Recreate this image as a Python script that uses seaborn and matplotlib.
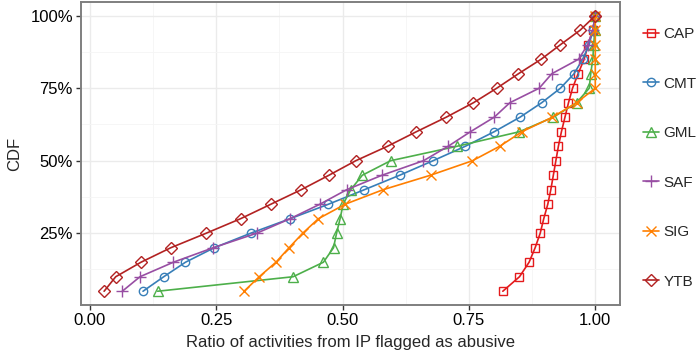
import numpy as np
import pandas as pd
import matplotlib
matplotlib.use('Agg')
import matplotlib.pyplot as plt
import seaborn as sns
from matplotlib.ticker import FixedLocator, PercentFormatter

# =============================================================================
# DATA
# =============================================================================
cdf_levels = [0.05, 0.10, 0.15, 0.20, 0.25, 0.30, 0.35, 0.40, 0.45, 0.50,
              0.55, 0.60, 0.65, 0.70, 0.75, 0.80, 0.85, 0.90, 0.95, 1.00]

cap = [0.817, 0.850, 0.869, 0.881, 0.891, 0.898, 0.906, 0.912, 0.917, 0.922,
       0.927, 0.933, 0.940, 0.947, 0.955, 0.966, 0.978, 0.986, 0.995, 1.000]
cmt = [0.105, 0.146, 0.189, 0.246, 0.318, 0.396, 0.472, 0.543, 0.613, 0.679,
       0.743, 0.800, 0.851, 0.894, 0.931, 0.958, 0.975, 0.988, 0.995, 1.000]
gml = [0.134, 0.402, 0.462, 0.482, 0.488, 0.495, 0.501, 0.516, 0.539, 0.595,
       0.727, 0.850, 0.917, 0.963, 0.988, 0.991, 0.995, 0.997, 0.999, 1.000]
saf = [0.064, 0.099, 0.165, 0.244, 0.330, 0.396, 0.455, 0.508, 0.578, 0.660,
       0.709, 0.753, 0.800, 0.831, 0.889, 0.914, 0.967, 0.985, 0.995, 1.000]
sig = [0.305, 0.335, 0.368, 0.394, 0.421, 0.452, 0.505, 0.580, 0.674, 0.757,
       0.811, 0.855, 0.915, 0.963, 1.000, 1.000, 1.000, 1.000, 1.000, 1.000]
ytb = [0.028, 0.051, 0.101, 0.160, 0.230, 0.298, 0.358, 0.418, 0.473, 0.526,
       0.589, 0.646, 0.705, 0.759, 0.805, 0.848, 0.893, 0.931, 0.970, 1.000]

series_names = ['CAP', 'CMT', 'GML', 'SAF', 'SIG', 'YTB']
series_vals = [cap, cmt, gml, saf, sig, ytb]

x_ticks = [0.00, 0.25, 0.50, 0.75, 1.00]
y_ticks = [0.25, 0.50, 0.75, 1.00]

# =============================================================================
# STYLE
# =============================================================================
sns.set_theme(style='white')
plt.rcParams['font.family'] = ['Liberation Sans', 'DejaVu Sans']

colors = {'CAP': '#E41A1C', 'CMT': '#377EB8', 'GML': '#4DAF4A',
          'SAF': '#984EA3', 'SIG': '#FF7F00', 'YTB': '#B22222'}
markers = {'CAP': 's', 'CMT': 'o', 'GML': '^', 'SAF': '+', 'SIG': 'x', 'YTB': 'D'}
msizes = {'CAP': 6, 'CMT': 6, 'GML': 6.5, 'SAF': 8.5, 'SIG': 7, 'YTB': 6}

df = pd.concat([pd.DataFrame({'site': n, 'ratio': v, 'cdf': cdf_levels})
                for n, v in zip(series_names, series_vals)], ignore_index=True)

fig, ax = plt.subplots(figsize=(6.96, 3.55), dpi=100)
fig.subplots_adjust(left=0.1158, right=0.8905, top=0.9946, bottom=0.1408)

for name in series_names:
    sub = df[df['site'] == name]
    sns.lineplot(data=sub, x='ratio', y='cdf', ax=ax, sort=False, estimator=None,
                 color=colors[name], marker=markers[name], markersize=msizes[name],
                 markerfacecolor='none', markeredgecolor=colors[name],
                 markeredgewidth=1.0, linewidth=1.2, label=name)

# ggplot-like expansion of the limits
ax.set_xlim(-0.0185, 1.0485)
ax.set_ylim(0.0025, 1.0475)

ax.xaxis.set_major_locator(FixedLocator(x_ticks))
ax.yaxis.set_major_locator(FixedLocator(y_ticks))
ax.xaxis.set_minor_locator(FixedLocator([0.125, 0.375, 0.625, 0.875]))
ax.yaxis.set_minor_locator(FixedLocator([0.125, 0.375, 0.625, 0.875]))
ax.set_xticklabels(['0.00', '0.25', '0.50', '0.75', '1.00'])
ax.yaxis.set_major_formatter(PercentFormatter(1.0, decimals=0))

ax.grid(True, which='major', color='#EBEBEB', linewidth=1.0)
ax.grid(True, which='minor', color='#F5F5F5', linewidth=0.6)
ax.set_axisbelow(True)

for s in ax.spines.values():
    s.set_color('#7F7F7F')
    s.set_linewidth(1.4)

ax.tick_params(axis='both', which='major', direction='out', length=3.5, width=1.0,
               color='#333333', labelsize=12, labelcolor='black', pad=2,
               bottom=True, left=True)
ax.tick_params(axis='both', which='minor', length=0)

ax.set_xlabel('Ratio of activities from IP flagged as abusive', fontsize=12, labelpad=5)
ax.set_ylabel('CDF', fontsize=12, labelpad=6)

leg = ax.legend(loc='center left', bbox_to_anchor=(1.031, 0.485), frameon=False,
                fontsize=11, labelspacing=2.32, handlelength=1.05, handletextpad=0.3,
                borderaxespad=0)

plt.savefig('out.png', dpi=100)
